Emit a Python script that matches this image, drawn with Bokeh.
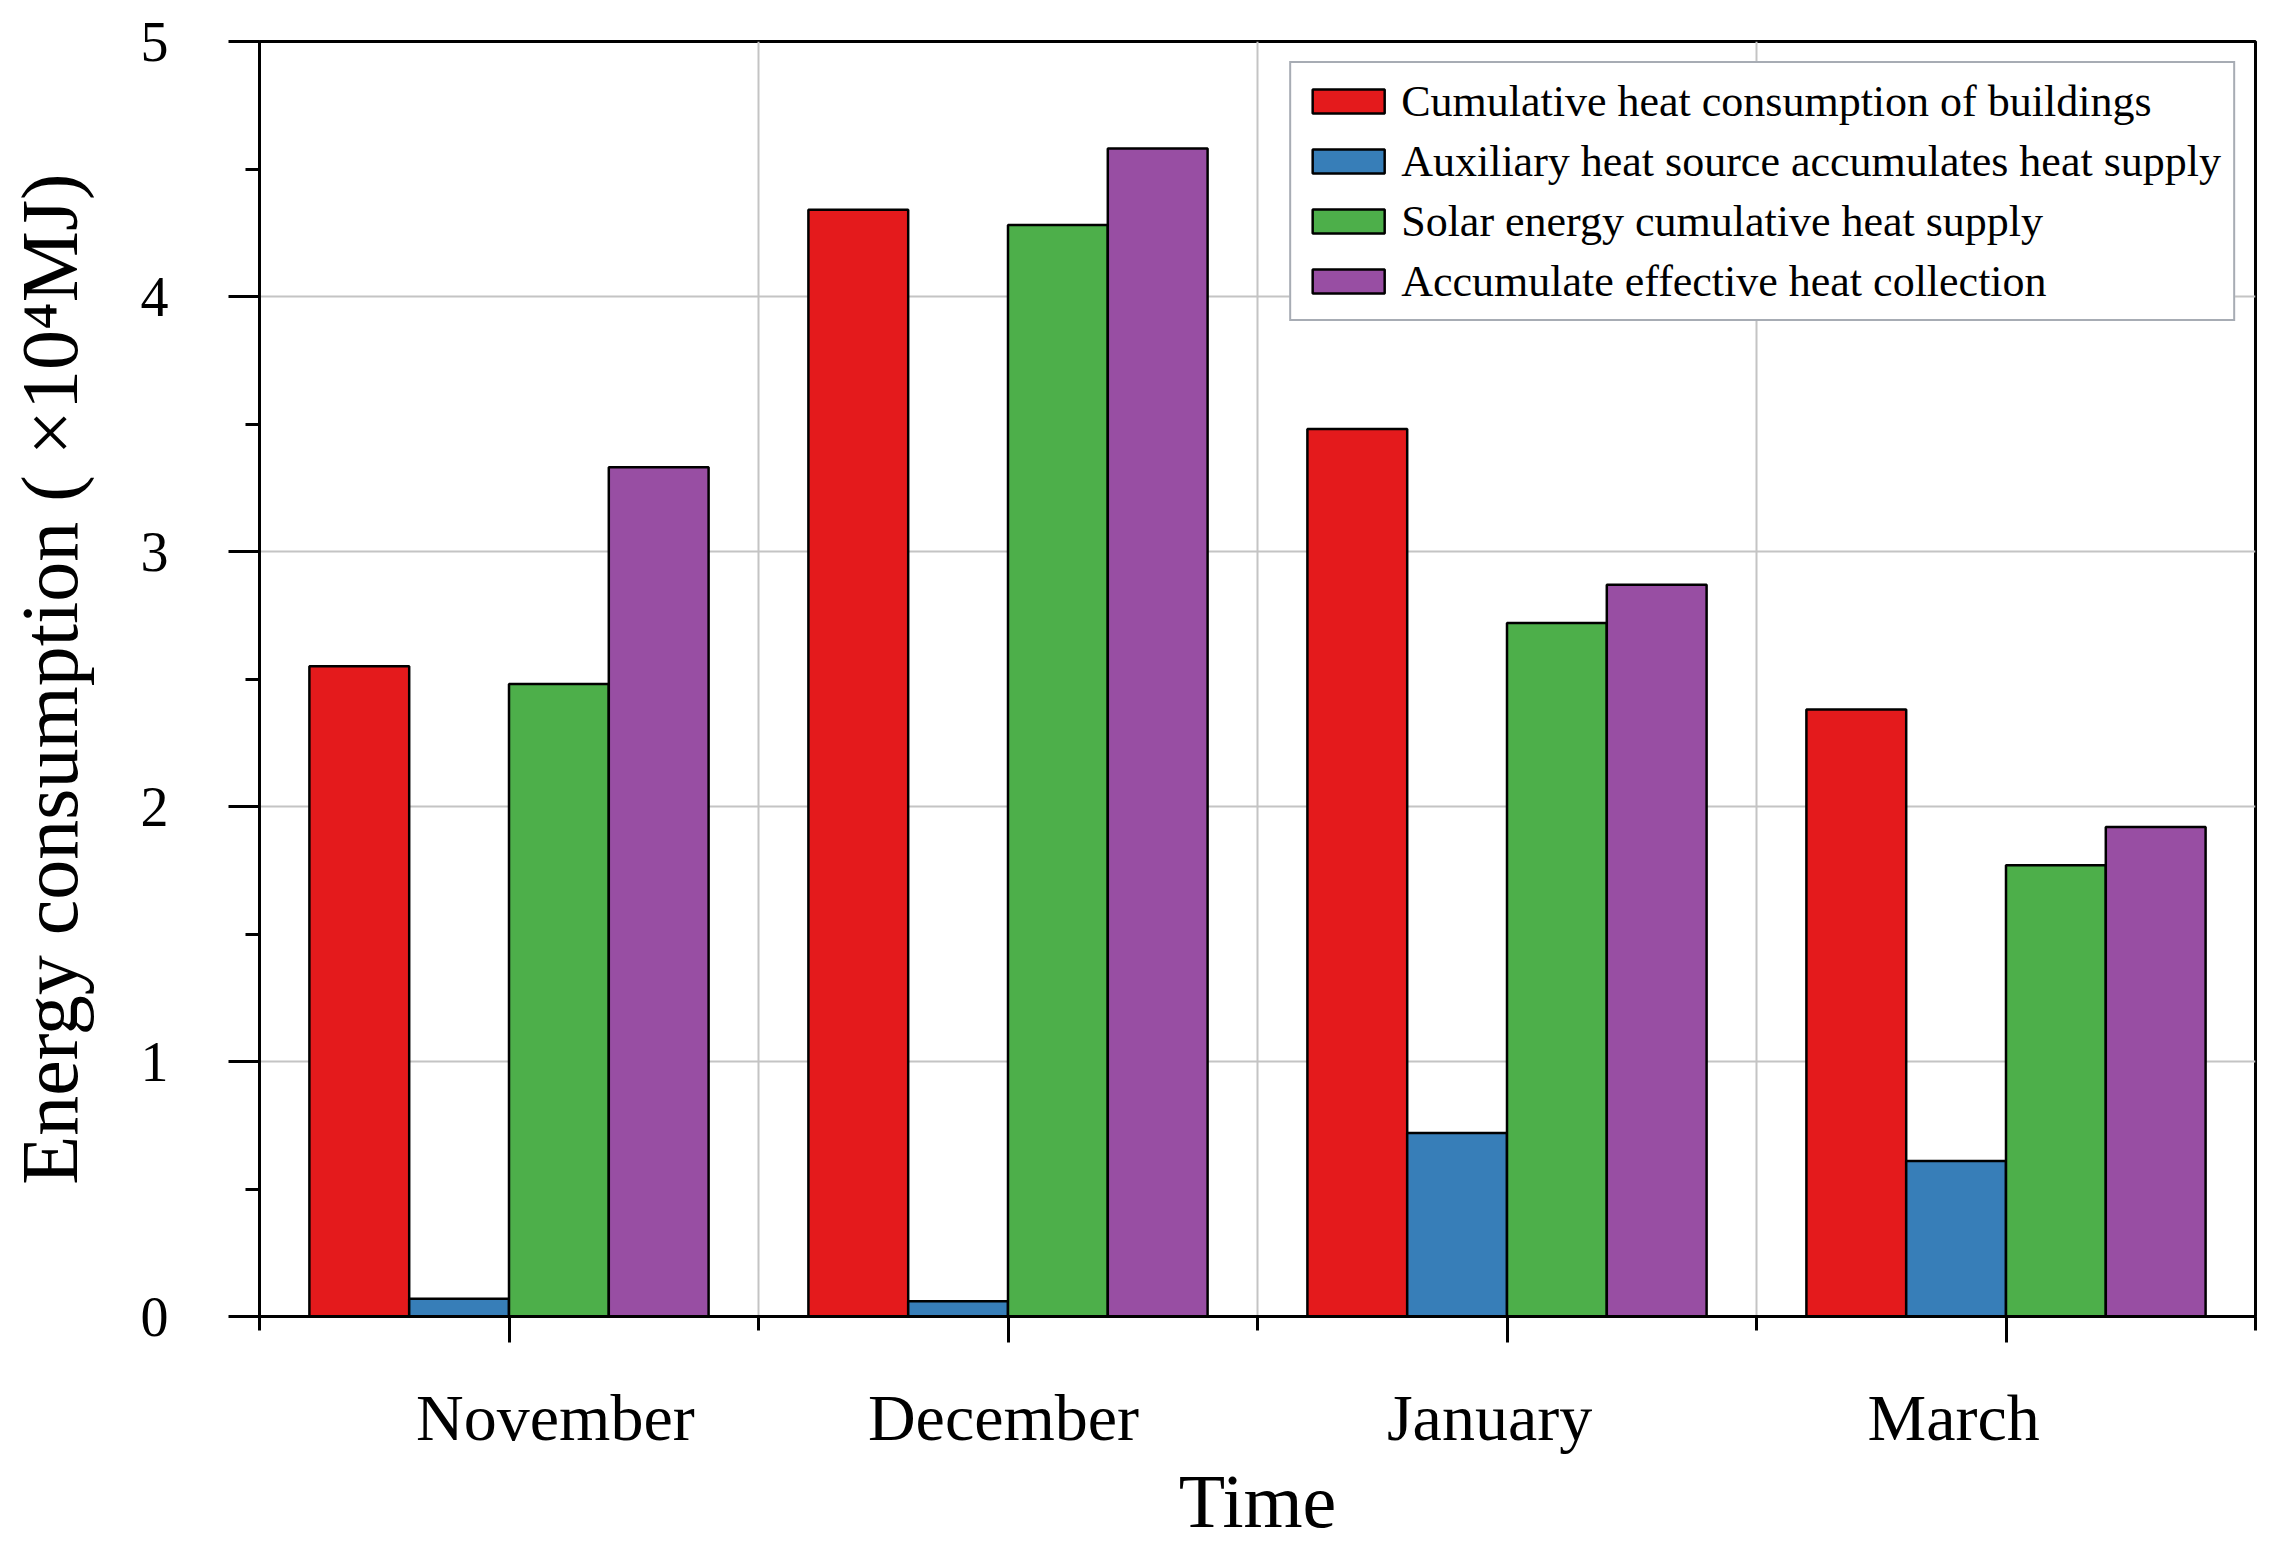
from bokeh.plotting import figure
from bokeh.models import (ColumnDataSource, Range1d, FixedTicker, LinearAxis,
                          Legend, LegendItem)
from bokeh.embed import file_html
from bokeh.resources import INLINE

# ---- data ----
months = ["November", "December", "January", "March"]
series_names = [
    "Cumulative heat consumption of buildings",
    "Auxiliary heat source accumulates heat supply",
    "Solar energy cumulative heat supply",
    "Accumulate effective heat collection",
]
building_heat = [2.55, 4.34, 3.48, 2.38]
auxiliary_heat = [0.07, 0.06, 0.72, 0.61]
solar_heat = [2.48, 4.28, 2.72, 1.77]
effective_collection = [3.33, 4.58, 2.87, 1.92]
y_ticks = [0, 1, 2, 3, 4, 5]
y_minor_ticks = [0.5, 1.5, 2.5, 3.5, 4.5]

# ---- style ----
colors = ["#E41A1C", "#377EB8", "#4DAF4A", "#984EA3"]
label_offsets = [0.093, -0.009, -0.035, -0.105]
FONT = "Liberation Serif"
bar_w = 0.2

values = [building_heat, auxiliary_heat, solar_heat, effective_collection]
n = len(months)
centers = [i + 0.5 for i in range(n)]
bounds = [float(i) for i in range(n + 1)]

p = figure(width=2259, height=1545, output_backend="svg", toolbar_location=None,
           x_range=Range1d(0, n), y_range=Range1d(0, 5),
           min_border_left=259, min_border_right=4, min_border_top=41,
           min_border_bottom=224)
p.background_fill_color = "white"
p.border_fill_color = "white"
p.outline_line_color = "black"
p.outline_line_width = 3

renderers = []
for k, vals in enumerate(values):
    xs = [c + (k - 1.5) * bar_w for c in centers]
    src = ColumnDataSource(dict(x=xs, top=vals))
    r = p.vbar(x="x", top="top", bottom=0, width=bar_w, source=src,
               fill_color=colors[k], line_color="black", line_width=2.5)
    renderers.append(r)

# x axis with ticks only (labels are on the axis below it)
xa = p.xaxis[0]
xa.ticker = FixedTicker(ticks=centers, minor_ticks=bounds)
xa.major_tick_out = 26
xa.major_tick_in = 0
xa.minor_tick_out = 14
xa.minor_tick_in = 0
xa.major_tick_line_width = 3
xa.minor_tick_line_width = 3
xa.axis_line_width = 3
xa.major_label_overrides = {c: "" for c in centers}
xa.major_label_text_font_size = "1px"
xa.major_label_standoff = 0

# label-only x axis
label_pos = [c + o for c, o in zip(centers, label_offsets)]
xb = LinearAxis(ticker=FixedTicker(ticks=label_pos, minor_ticks=[]),
                major_label_overrides={pos: m for pos, m in zip(label_pos, months)})
xb.axis_line_color = None
xb.major_tick_line_color = None
xb.minor_tick_line_color = None
xb.major_tick_out = 0
xb.major_tick_in = 0
xb.major_label_standoff = 38
xb.major_label_text_font = FONT
xb.major_label_text_font_size = "66px"
xb.major_label_text_color = "black"
xb.axis_label = "Time"
xb.axis_label_text_font = FONT
xb.axis_label_text_font_size = "76px"
xb.axis_label_text_font_style = "normal"
xb.axis_label_text_color = "black"
xb.axis_label_standoff = 2
p.add_layout(xb, "below")

# y axis
ya = p.yaxis[0]
ya.ticker = FixedTicker(ticks=y_ticks, minor_ticks=y_minor_ticks)
ya.major_tick_out = 31
ya.major_tick_in = 0
ya.minor_tick_out = 14
ya.minor_tick_in = 0
ya.major_tick_line_width = 3
ya.minor_tick_line_width = 3
ya.axis_line_width = 3
ya.major_label_text_font = FONT
ya.major_label_text_font_size = "56px"
ya.major_label_text_color = "black"
ya.major_label_standoff = 60
ya.axis_label = "Energy consumption ( \u00d710\u2074MJ)"
ya.axis_label_text_font = FONT
ya.axis_label_text_font_size = "80px"
ya.axis_label_text_font_style = "normal"
ya.axis_label_text_color = "black"
ya.axis_label_standoff = 44

# grids
p.ygrid.ticker = FixedTicker(ticks=[1, 2, 3, 4])
p.ygrid.grid_line_color = "#c4c4c4"
p.ygrid.grid_line_width = 2
p.xgrid.ticker = FixedTicker(ticks=bounds[1:-1])
p.xgrid.grid_line_color = "#c4c4c4"
p.xgrid.grid_line_width = 2

legend = Legend(items=[LegendItem(label=s, renderers=[r]) for s, r in zip(series_names, renderers)],
                location="top_right")
legend.margin = 20
legend.padding = 12
legend.spacing = 8
legend.label_height = 52
legend.glyph_width = 90
legend.glyph_height = 30
legend.label_standoff = 8
legend.label_text_font = FONT
legend.label_text_font_size = "44px"
legend.label_text_color = "black"
legend.border_line_color = "#4f5a6a"
legend.border_line_width = 2.5
legend.background_fill_alpha = 1
p.add_layout(legend)

open("out.html", "w").write(file_html(p, INLINE))
